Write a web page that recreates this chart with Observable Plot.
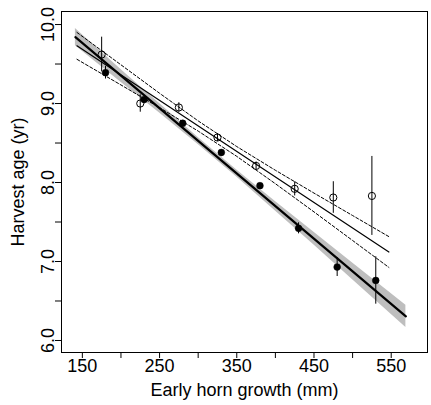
<!DOCTYPE html>
<html><head><meta charset="utf-8">
<script src="https://cdn.jsdelivr.net/npm/d3@7"></script>
<script src="https://cdn.jsdelivr.net/npm/@observablehq/plot@0.6"></script>
<style>body{margin:0;background:#fff}</style>
</head><body><div id="chart"></div>
<script>
// Tick values and labels
const xTicks = [150, 200, 250, 300, 350, 400, 450, 500, 550];
const xTickLabels = ["150", "", "250", "", "350", "", "450", "", "550"];
const yTicks = [6, 6.5, 7, 7.5, 8, 8.5, 9, 9.5, 10];
const yTickLabels = ["6.0", "", "7.0", "", "8.0", "", "9.0", "", "10.0"];

// Open circles (means with error bars)
const openX = [175, 225, 275, 325, 375, 425, 475, 525];
const openY = [9.62, 9.00, 8.95, 8.57, 8.21, 7.92, 7.81, 7.83];
const openErr = [0.22, 0.11, 0.06, 0.05, 0.05, 0.09, 0.20, 0.50];

// Filled circles
const filledX = [180, 230, 280, 330, 380, 430, 480, 530];
const filledY = [9.39, 9.05, 8.75, 8.38, 7.96, 7.42, 6.93, 6.76];
const filledErr = [0.08, 0.03, 0.03, 0.03, 0.03, 0.07, 0.12, 0.30];

// Fitted line for open circles (thin) and its dashed confidence limits
const openFitX = [143, 547];
const openFitY = [9.73, 7.12];
const openCiX = [143, 200, 250, 300, 350, 400, 450, 500, 547];
const openCiHi = [9.90, 9.49, 9.13, 8.78, 8.455, 8.155, 7.866, 7.582, 7.315];
const openCiLo = [9.56, 9.235, 8.948, 8.651, 8.331, 7.985, 7.628, 7.266, 6.925];

// Fitted line for filled circles (thick) and its grey confidence band
const filledFitX = [141, 569];
const filledFitY = [9.84, 6.305];
const bandX = [141, 200, 250, 300, 350, 400, 450, 500, 569];
const bandLo = [9.73, 9.27, 8.88, 8.48, 8.07, 7.64, 7.21, 6.77, 6.165];
const bandHi = [9.95, 9.43, 9.00, 8.57, 8.16, 7.76, 7.37, 6.98, 6.445];

const xLab = new Map(xTicks.map((t, i) => [t, xTickLabels[i]]));
const yLab = new Map(yTicks.map((t, i) => [t, yTickLabels[i]]));

const openData = openX.map((x, i) => ({x, y: openY[i], lo: openY[i] - openErr[i], hi: openY[i] + openErr[i]}));
const filledData = filledX.map((x, i) => ({x, y: filledY[i], lo: filledY[i] - filledErr[i], hi: filledY[i] + filledErr[i]}));
const bandData = bandX.map((x, i) => ({x, lo: bandLo[i], hi: bandHi[i]}));
const ciData = openCiX.map((x, i) => ({x, lo: openCiLo[i], hi: openCiHi[i]}));
const openFit = openFitX.map((x, i) => ({x, y: openFitY[i]}));
const filledFit = filledFitX.map((x, i) => ({x, y: filledFitY[i]}));

const chart = Plot.plot({
  width: 431, height: 405,
  marginLeft: 61, marginRight: 4, marginTop: 11, marginBottom: 53,
  x: {domain: [123, 597]},
  y: {domain: [5.848, 10.165]},
  style: {fontSize: "18px", fontFamily: "'Liberation Sans', Arial, sans-serif", background: "white", color: "black"},
  marks: [
    Plot.areaY(bandData, {x: "x", y1: "lo", y2: "hi", fill: "#bebebe"}),
    Plot.line(ciData, {x: "x", y: "hi", stroke: "black", strokeWidth: 1, strokeDasharray: "3,2"}),
    Plot.line(ciData, {x: "x", y: "lo", stroke: "black", strokeWidth: 1, strokeDasharray: "3,2"}),
    Plot.line(openFit, {x: "x", y: "y", stroke: "black", strokeWidth: 1.2}),
    Plot.line(filledFit, {x: "x", y: "y", stroke: "black", strokeWidth: 2.2}),
    Plot.ruleX(openData, {x: "x", y1: "lo", y2: "hi", stroke: "black", strokeWidth: 1}),
    Plot.ruleX(filledData, {x: "x", y1: "lo", y2: "hi", stroke: "black", strokeWidth: 1}),
    Plot.dot(openData, {x: "x", y: "y", r: 3.6, fill: "none", stroke: "black", strokeWidth: 1}),
    Plot.dot(filledData, {x: "x", y: "y", r: 3.4, fill: "black", stroke: "black", strokeWidth: 0.5}),
    Plot.frame({stroke: "black", strokeWidth: 1}),
    Plot.axisX({ticks: xTicks, tickFormat: d => xLab.get(d), tickSize: 6, tickPadding: 1,
      label: "Early horn growth (mm)", labelAnchor: "center", labelArrow: "none", labelOffset: 43}),
    Plot.axisY({ticks: yTicks, tickFormat: d => yLab.get(d), tickSize: 6, tickRotate: -90, tickPadding: 2,
      label: "Harvest age (yr)", labelAnchor: "center", labelArrow: "none", labelOffset: 50})
  ]
});
document.getElementById("chart").appendChild(chart);
</script>
</body></html>
